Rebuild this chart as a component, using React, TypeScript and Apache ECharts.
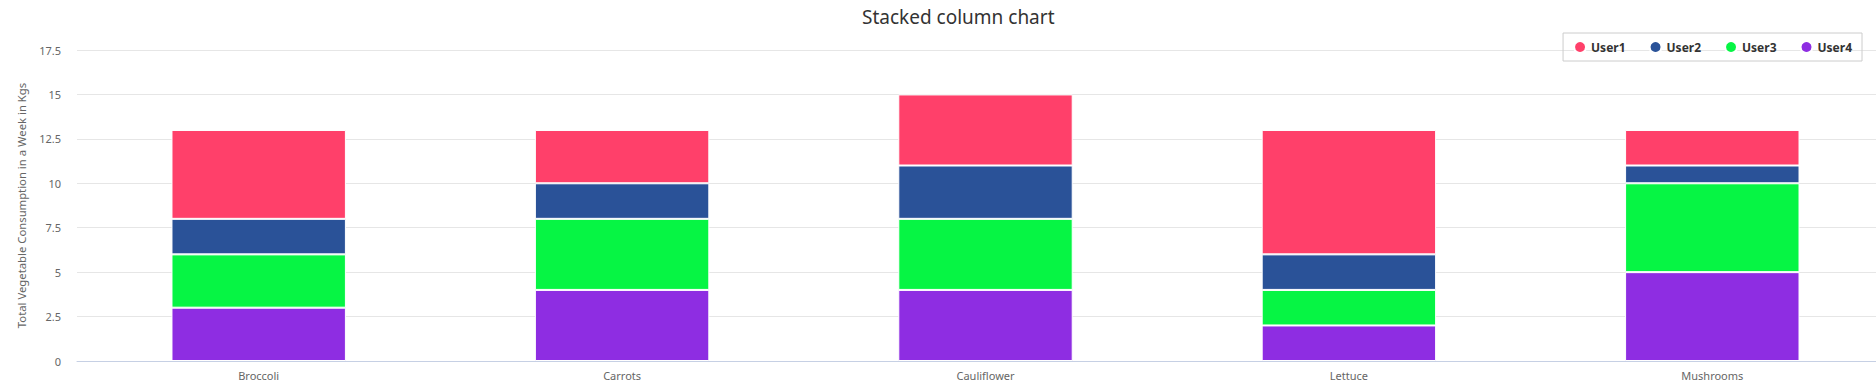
import React, { useEffect, useRef } from "react";
import * as echarts from "echarts";

const categories = ["Broccoli", "Carrots", "Cauliflower", "Lettuce", "Mushrooms"];
const user1 = [5, 3, 4, 7, 2];
const user2 = [2, 2, 3, 2, 1];
const user3 = [3, 4, 4, 2, 5];
const user4 = [3, 4, 4, 2, 5];
const legendNames = ["User1", "User2", "User3", "User4"];
const colors: Record<string, string> = {
  User1: "#ff406a",
  User2: "#2a5298",
  User3: "#06f544",
  User4: "#8e2de2",
};

export default function App() {
  const ref = useRef<HTMLDivElement>(null);
  useEffect(() => {
    if (!ref.current) return;
    const chart = echarts.init(ref.current, undefined, { renderer: "svg" });
    const font = "'Noto Sans', 'DejaVu Sans', sans-serif";
    const mk = (name: string, data: number[]) => ({
      name,
      type: "bar",
      stack: "total",
      data,
      barWidth: "48%",
      itemStyle: { color: colors[name], borderColor: "#ffffff", borderWidth: 1 },
    });
    chart.setOption({
      animation: false,
      textStyle: { fontFamily: font },
      title: {
        text: "Stacked column chart",
        left: 857,
        top: 2,
        textStyle: { fontSize: 19, fontWeight: "normal", color: "#333", fontFamily: font },
      },
      legend: {
        data: legendNames,
        right: 32,
        top: 33,
        padding: [7, 10],
        borderColor: "#ccc",
        borderWidth: 1,
        icon: "circle",
        itemWidth: 12,
        itemHeight: 12,
        itemGap: 23,
        textStyle: { fontSize: 12, fontWeight: "bold", color: "#333", fontFamily: font },
      },
      grid: { left: 77, right: 0, top: 50, bottom: 27, containLabel: false },
      xAxis: {
        type: "category",
        data: categories,
        axisLine: { lineStyle: { color: "#c6d0e4" } },
        axisTick: { length: 10, lineStyle: { color: "#c6d0e4" } },
        axisLabel: { color: "#666", fontSize: 11, margin: 9, fontFamily: font },
      },
      yAxis: {
        type: "value",
        min: 0,
        max: 17.5,
        interval: 2.5,
        name: "Total Vegetable Consumption in a Week in Kgs",
        nameLocation: "middle",
        nameGap: 50,
        nameTextStyle: { color: "#666", fontSize: 11.3, fontFamily: font },
        axisLabel: { color: "#666", fontSize: 11, margin: 16, fontFamily: font },
        splitLine: { lineStyle: { color: "#e6e6e6" } },
        axisLine: { show: false },
      },
      series: [mk("User4", user4), mk("User3", user3), mk("User2", user2), mk("User1", user1)],
    });
    return () => chart.dispose();
  }, []);
  return (
    <div
      style={{ position: "fixed", left: 0, top: 0, width: 1876, height: 388, overflow: "hidden", background: "#fff" }}
    >
      <div ref={ref} style={{ width: 1894, height: 388 }} />
    </div>
  );
}
